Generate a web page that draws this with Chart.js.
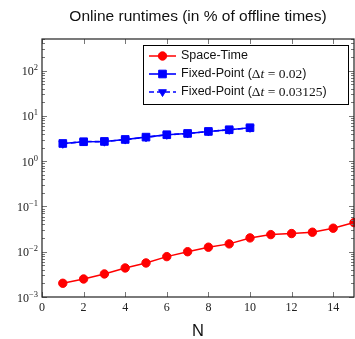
<!DOCTYPE html>
<html>
<head>
<meta charset="utf-8">
<script src="https://cdn.jsdelivr.net/npm/chart.js@4.4.1/dist/chart.umd.min.js"></script>
<style>
  html, body { margin: 0; padding: 0; background: #fff; }
  #wrap { width: 355px; height: 339px; position: relative; }
</style>
</head>
<body>
<div id="wrap"><canvas id="c" width="355" height="339"></canvas></div>
<script>
// Number of time slabs N
const nValues = [1, 2, 3, 4, 5, 6, 7, 8, 9, 10, 11, 12, 13, 14, 15];
// Online runtimes relative to offline runtimes (%)
const spaceTime = [0.00201, 0.0025, 0.00323, 0.00438, 0.00565, 0.0078, 0.0100, 0.0126, 0.0149, 0.0202, 0.0239, 0.0252, 0.0270, 0.0331, 0.0440];
const fixedPoint002 = [2.46, 2.69, 2.73, 3.02, 3.40, 3.84, 4.10, 4.54, 4.95, 5.48];
const fixedPoint003125 = [2.42, 2.72, 2.70, 3.00, 3.38, 3.82, 4.08, 4.52, 4.93, 5.45];

const xTicks = [0, 2, 4, 6, 8, 10, 12, 14];
const yExponents = [-3, -2, -1, 0, 1, 2];

const seriesNames = ['Space-Time', 'Fixed-Point', 'Fixed-Point'];
const seriesSteps = [null, '0.02', '0.03125'];

const RED = '#ff0000';
const BLUE = '#0000ff';
const SERIF = '"Liberation Serif", "DejaVu Serif", serif';
const SANS = '"Liberation Sans", "DejaVu Sans", sans-serif';

function pts(values) {
  return values.map((v, i) => ({ x: nValues[i], y: v }));
}

// Axis frame, inward ticks, tick labels, titles and legend
const decor = {
  id: 'decor',
  afterDraw(chart) {
    const ctx = chart.ctx;
    const a = chart.chartArea;
    const xs = chart.scales.x, ys = chart.scales.y;
    ctx.save();

    // ticks
    ctx.strokeStyle = '#777';
    ctx.lineWidth = 1;
    ctx.beginPath();
    xTicks.forEach(t => {
      const px = Math.round(xs.getPixelForValue(t)) + 0.5;
      ctx.moveTo(px, a.bottom); ctx.lineTo(px, a.bottom - 5);
      ctx.moveTo(px, a.top); ctx.lineTo(px, a.top + 5);
    });
    for (let e = -3; e <= 2; e++) {
      for (let m = 1; m <= 9; m++) {
        const v = m * Math.pow(10, e);
        if (v > ys.max) continue;
        const py = Math.round(ys.getPixelForValue(v)) + 0.5;
        const len = m === 1 ? 5 : 3;
        ctx.moveTo(a.left, py); ctx.lineTo(a.left + len, py);
        ctx.moveTo(a.right, py); ctx.lineTo(a.right - len, py);
      }
    }
    ctx.stroke();

    // frame
    ctx.strokeStyle = '#222';
    ctx.lineWidth = 1.2;
    ctx.strokeRect(a.left, a.top, a.right - a.left, a.bottom - a.top);

    // x tick labels
    ctx.fillStyle = '#222';
    ctx.font = '12px ' + SERIF;
    ctx.textAlign = 'center';
    ctx.textBaseline = 'middle';
    xTicks.forEach(t => {
      ctx.fillText(String(t), xs.getPixelForValue(t), a.bottom + 11);
    });

    // y tick labels as powers of ten
    yExponents.forEach(e => {
      const py = ys.getPixelForValue(Math.pow(10, e));
      const expText = e < 0 ? '\u2212' + (-e) : String(e);
      ctx.font = '8.5px ' + SERIF;
      const ew = ctx.measureText(expText).width;
      ctx.font = '12px ' + SERIF;
      const bw = ctx.measureText('10').width;
      const right = 38;
      ctx.textAlign = 'left';
      ctx.textBaseline = 'alphabetic';
      ctx.fillText('10', right - ew - bw, py + 4.5);
      ctx.font = '8.5px ' + SERIF;
      ctx.fillText(expText, right - ew, py - 0.5);
    });

    // title and axis title
    ctx.fillStyle = '#111';
    ctx.textAlign = 'center';
    ctx.textBaseline = 'middle';
    ctx.font = '15.5px ' + SANS;
    ctx.fillText('Online runtimes (in % of offline times)', (a.left + a.right) / 2, 16.5);
    ctx.font = '16.5px ' + SANS;
    ctx.fillText('N', (a.left + a.right) / 2, 331.5);

    // legend
    const lx = 143, ly = 45, lw = 205, lh = 59;
    ctx.fillStyle = '#fff';
    ctx.fillRect(lx, ly, lw, lh);
    ctx.strokeStyle = '#000';
    ctx.lineWidth = 1;
    ctx.strokeRect(lx + 0.5, ly + 0.5, lw, lh);
    const rows = [56, 74, 92];
    chart.data.datasets.forEach((ds, i) => {
      const y = rows[i];
      ctx.strokeStyle = ds.borderColor;
      ctx.lineWidth = ds.borderWidth;
      ctx.setLineDash(ds.borderDash || []);
      ctx.beginPath();
      ctx.moveTo(149, y); ctx.lineTo(176, y);
      ctx.stroke();
      ctx.setLineDash([]);
      ctx.fillStyle = ds.backgroundColor;
      ctx.strokeStyle = ds.borderColor;
      ctx.lineWidth = 1;
      Chart.helpers.drawPoint(ctx, {
        pointStyle: ds.pointStyle, radius: ds.pointRadius, rotation: ds.pointRotation || 0,
        borderWidth: 1
      }, 162.5, y);

      // label text
      let x = 181;
      ctx.fillStyle = '#111';
      ctx.textAlign = 'left';
      ctx.textBaseline = 'middle';
      const seg = (txt, font) => { ctx.font = font; ctx.fillText(txt, x, y); x += ctx.measureText(txt).width; };
      seg(seriesNames[i], '12.5px ' + SANS);
      if (seriesSteps[i]) {
        seg(' (', '12.5px ' + SANS);
        seg('\u0394', '13.5px ' + SERIF);
        seg('t', 'italic 13.5px ' + SERIF);
        seg(' = ' + seriesSteps[i], '13.5px ' + SERIF);
        seg(')', '12.5px ' + SANS);
      }
    });
    ctx.restore();
  }
};

new Chart(document.getElementById('c'), {
  type: 'line',
  data: {
    datasets: [
      {
        label: 'Space-Time',
        data: pts(spaceTime),
        borderColor: RED, backgroundColor: RED,
        borderWidth: 1.5, pointStyle: 'circle', pointRadius: 4.2,
        pointBorderWidth: 1, order: 0
      },
      {
        label: 'Fixed-Point (\u0394t = 0.02)',
        data: pts(fixedPoint002),
        borderColor: BLUE, backgroundColor: BLUE,
        borderWidth: 1.6, pointStyle: 'rect', pointRadius: 5.4,
        pointBorderWidth: 1, order: 1
      },
      {
        label: 'Fixed-Point (\u0394t = 0.03125)',
        data: pts(fixedPoint003125),
        borderColor: BLUE, backgroundColor: BLUE,
        borderWidth: 1.6, borderDash: [5, 3], pointStyle: 'triangle', pointRotation: 180, pointRadius: 4.5,
        pointBorderWidth: 1, order: 2
      }
    ]
  },
  options: {
    responsive: false,
    animation: false,
    events: [],
    layout: { autoPadding: false, padding: { left: 0, right: 1, top: 39, bottom: 0 } },
    plugins: { legend: { display: false }, title: { display: false }, tooltip: { enabled: false } },
    elements: { line: { tension: 0 } },
    clip: false,
    scales: {
      x: {
        type: 'linear', min: 0, max: 15,
        grid: { display: false, drawTicks: false },
        border: { display: false },
        ticks: { display: false },
        afterFit: s => { s.height = 42; }
      },
      y: {
        type: 'logarithmic', min: 0.001, max: 500,
        grid: { display: false, drawTicks: false },
        border: { display: false },
        ticks: { display: false },
        afterFit: s => { s.width = 42; }
      }
    }
  },
  plugins: [decor]
});
</script>
</body>
</html>
